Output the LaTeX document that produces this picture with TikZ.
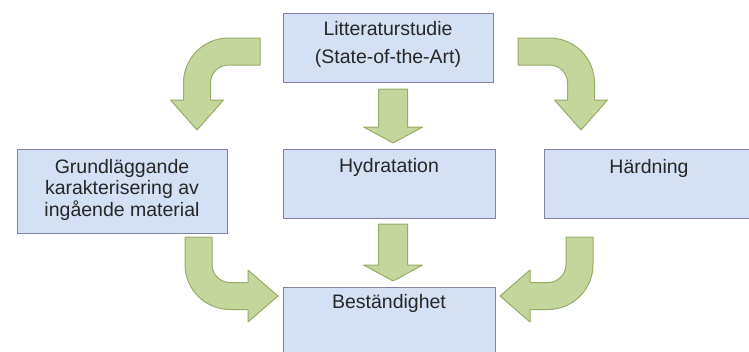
\documentclass[tikz,border=0pt]{standalone}
\usepackage{fontspec}
\setmainfont{Liberation Sans}
\usetikzlibrary{calc}
\definecolor{boxfill}{HTML}{D4E1F4}
\definecolor{boxline}{HTML}{8282A2}
\definecolor{arrfill}{HTML}{C4D69B}
\definecolor{arrline}{HTML}{98AC68}
\definecolor{txt}{HTML}{262626}
\newcommand\fatdown[2]{%
  \draw[garrow] let \p1=(#1), \p2=(#2) in
    (\x1-14.5pt,\y1) -- (\x1+14.5pt,\y1) -- (\x1+14.5pt,\y2+16pt) -- (\x1+29.5pt,\y2+16pt)
    -- (\x1,\y2) -- (\x1-29.5pt,\y2+16pt) -- (\x1-14.5pt,\y2+16pt) -- cycle;}
\begin{document}
\begin{tikzpicture}[x=1pt,y=-1pt,
  box/.style={draw=boxline, fill=boxfill, line width=1.2pt, minimum width=211pt,
    minimum height=69pt, inner sep=0pt, anchor=north west},
  lbl/.style={font=\fontsize{19.5}{21.5}\selectfont, text=txt, inner sep=0pt,
    align=center, anchor=north},
  garrow/.style={fill=arrfill, draw=arrline, line width=1pt, line join=round}]
\useasboundingbox (0,0) rectangle (749,351);

% boxes
\node[box, minimum width=210pt] (lit) at (283,13) {};
\node[box, minimum width=210pt, minimum height=84pt] (grund) at (17,149) {};
\node[box, minimum width=212pt] (hyd) at (283,149) {};
\node[box, minimum width=210pt] (hard) at (544,149) {};
\node[box, minimum width=212pt] (best) at (283,287) {};

% texts
\node[lbl, font=\fontsize{19.5}{28}\selectfont] (litt) at (388,20.8) {Litteraturstudie\\(State-of-the-Art)};
\node[lbl] (grundt) at (122,158.8) {Grundläggande\\karakterisering av\\ingående material};
\node[lbl] (hydt) at (389,157.8) {Hydratation};
\node[lbl] (hardt) at (649,158.8) {Härdning};
\node[lbl] (bestt) at (389,293.8) {Beständighet};

% straight arrows
\fatdown{$(lit.south)+(4.5,6)$}{$(hyd.north)+(3.5,-6)$}
\fatdown{$(hyd.south)+(3.5,5)$}{$(best.north)+(3.5,-6)$}

% top-left bent arrow
\draw[garrow] (260,38) -- (228.5,38) .. controls (203.65,38) and (183.5,58.15) .. (183.5,83)
  -- (183.5,100) -- (170.5,100) -- (197,130) -- (223.5,100) -- (210.5,100) -- (210.5,83)
  .. controls (210.5,73.06) and (218.56,65) .. (228.5,65) -- (260,65) -- cycle;
% top-right bent arrow
\draw[garrow] (518,38) -- (549.5,38) .. controls (574.35,38) and (594.5,58.15) .. (594.5,83)
  -- (594.5,100) -- (607.5,100) -- (581,130) -- (554.5,100) -- (567.5,100) -- (567.5,83)
  .. controls (567.5,73.06) and (559.44,65) .. (549.5,65) -- (518,65) -- cycle;
% bottom-left bent arrow
\draw[garrow] (185,237) -- (185,264.5) .. controls (185,289.35) and (205.15,309.5) .. (230,309.5)
  -- (248,309.5) -- (248,322) -- (278,296) -- (248,270) -- (248,282.5) -- (230,282.5)
  .. controls (220.06,282.5) and (212,274.44) .. (212,264.5) -- (212,237) -- cycle;
% bottom-right bent arrow
\draw[garrow] (593,237) -- (593,264.5) .. controls (593,289.35) and (572.85,309.5) .. (548,309.5)
  -- (530,309.5) -- (530,322) -- (500,296) -- (530,270) -- (530,282.5) -- (548,282.5)
  .. controls (557.94,282.5) and (566,274.44) .. (566,264.5) -- (566,237) -- cycle;
\end{tikzpicture}
\end{document}
